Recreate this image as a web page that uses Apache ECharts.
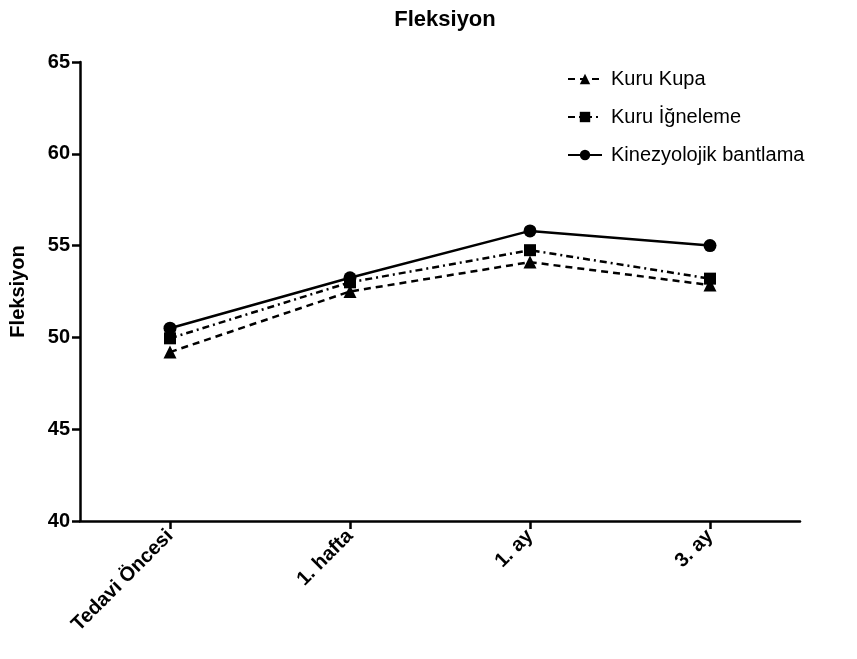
<!DOCTYPE html>
<html><head><meta charset="utf-8">
<script src="https://cdn.jsdelivr.net/npm/echarts@6/dist/echarts.min.js"></script>
<style>html,body{margin:0;padding:0;background:#fff}#c{width:857px;height:659px}</style>
</head><body><div id="c"></div>
<script>
const categories = ['Tedavi Öncesi', '1. hafta', '1. ay', '3. ay'];
const kuruKupa = [49.2, 52.5, 54.1, 52.85];
const kuruIgneleme = [49.95, 53.0, 54.75, 53.2];
const kinezyolojik = [50.5, 53.25, 55.8, 55.0];
const yTicks = [40, 45, 50, 55, 60, 65];

const F = 'Liberation Sans, Arial, sans-serif';
const chart = echarts.init(document.getElementById('c'));
function mk(name, data, symbol, type, size){
  return {name, type:'line', data, symbol, symbolSize:size,
    lineStyle:{color:'#000', width:2.5, type},
    itemStyle:{color:'#000'}, z: 3};
}
chart.setOption({
  animation:false,
  title:{text:'Fleksiyon', left:440, textAlign:'center', top:4,
    textStyle:{fontFamily:F, fontWeight:'bold', fontSize:22, color:'#000'}},
  legend:{orient:'vertical', left:562, top:64, itemGap:18, itemWidth:34, itemHeight:13,
    textStyle:{fontFamily:F, fontSize:20, color:'#000', padding:[0,0,0,4]},
    data:['Kuru Kupa','Kuru İğneleme','Kinezyolojik bantlama']},
  grid:{left:80, right:57, top:62, bottom:138, containLabel:false},
  xAxis:{type:'category', data:categories, boundaryGap:true,
    axisLine:{lineStyle:{color:'#000', width:2.5}},
    axisTick:{show:true, alignWithLabel:true, length:8, lineStyle:{color:'#000', width:2.5}},
    axisLabel:{rotate:45, fontFamily:F, fontWeight:'bold', fontSize:20, color:'#000', margin:12}},
  yAxis:{type:'value', min:yTicks[0], max:yTicks[yTicks.length-1], interval:5,
    name:'Fleksiyon', nameLocation:'middle', nameGap:52,
    nameTextStyle:{fontFamily:F, fontWeight:'bold', fontSize:20, color:'#000'},
    splitLine:{show:false},
    axisLine:{show:true, lineStyle:{color:'#000', width:2.5}},
    axisTick:{show:true, inside:false, length:8, lineStyle:{color:'#000', width:2.5}},
    axisLabel:{fontFamily:F, fontWeight:'bold', fontSize:20, color:'#000', margin:10}},
  series:[
    mk('Kuru Kupa', kuruKupa, 'triangle', [7,5], 13),
    mk('Kuru İğneleme', kuruIgneleme, 'rect', [7,4,2,4], 12),
    mk('Kinezyolojik bantlama', kinezyolojik, 'circle', 'solid', 13)
  ]
});
</script></body></html>
